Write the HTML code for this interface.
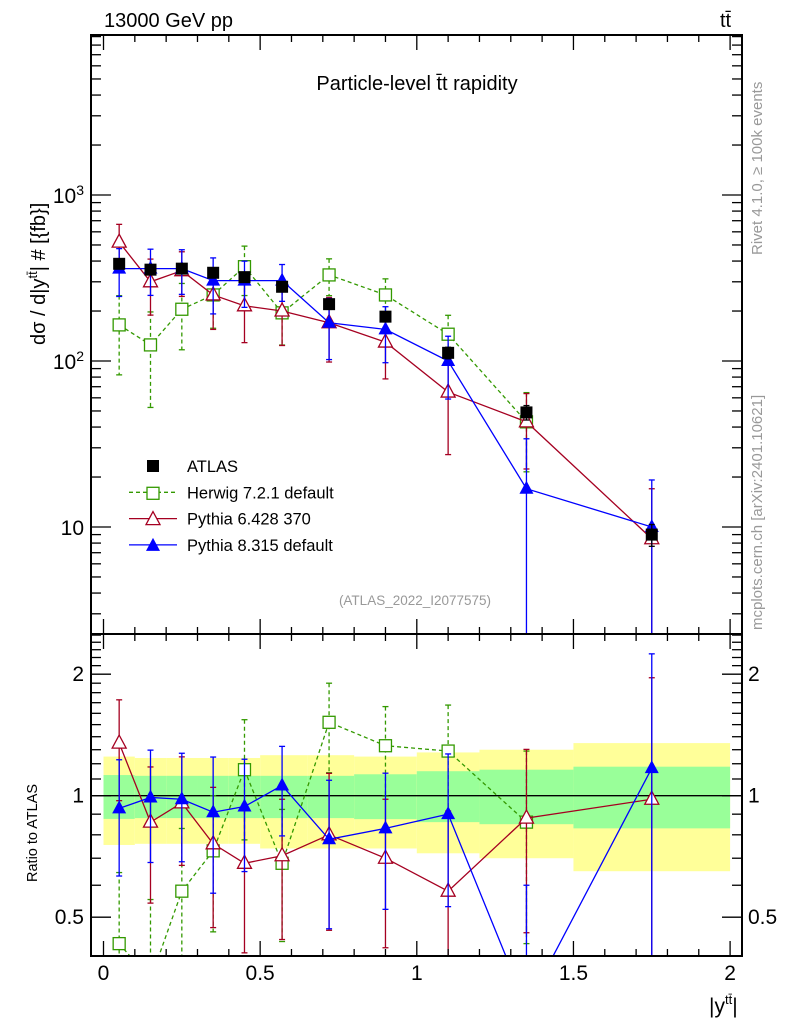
<!DOCTYPE html>
<html><head><meta charset="utf-8"><style>
body{margin:0;background:#fff;width:786px;height:1024px;overflow:hidden;position:relative}
svg{font-family:"Liberation Sans",sans-serif;position:absolute;left:0;top:0;display:block}
</style></head><body>
<svg id="c" width="786" height="1024" xmlns="http://www.w3.org/2000/svg"></svg>
<script>
const xs=[0.05,0.15,0.25,0.35,0.45,0.57,0.72,0.9,1.1,1.35,1.75];
const binEdges=[0,0.1,0.2,0.3,0.4,0.5,0.65,0.8,1.0,1.2,1.5,2.0];
const atlas=[385,355,360,340,320,280,220,185,112,49,9];
const atlasErr=[0.05,0.05,0.05,0.06,0.06,0.06,0.07,0.07,0.08,0.1,0.15];
const herwig=[165,125,205,250,370,195,330,250,145,43];
const herwigRatio=[0.43,0.35,0.58,0.73,1.16,0.68,1.52,1.33,1.29,0.86];
const herwigErr=[0.5,0.58,0.43,0.37,0.33,0.36,0.25,0.25,0.3,0.5];
const py6=[520,300,350,250,215,200,170,130,65,43,8.5];
const py6Ratio=[1.35,0.86,0.96,0.76,0.68,0.71,0.8,0.7,0.58,0.88,0.98];
const py6Err=[0.28,0.37,0.3,0.38,0.4,0.38,0.42,0.4,0.58,0.48,1.0];
const py8=[360,360,360,305,305,305,170,155,100,17,10];
const py8Ratio=[0.93,0.99,0.98,0.91,0.94,1.06,0.78,0.83,0.9,0.3,1.17];
const py8Err=[0.32,0.31,0.3,0.37,0.31,0.25,0.4,0.37,0.41,1.0,0.92];
const yellowUp=[1.25,1.24,1.24,1.24,1.24,1.26,1.26,1.25,1.28,1.3,1.35];
const yellowDn=[0.755,0.76,0.76,0.76,0.76,0.74,0.74,0.74,0.72,0.7,0.65];
const greenUp=[1.125,1.12,1.12,1.12,1.12,1.12,1.12,1.13,1.15,1.16,1.18];
const greenDn=[0.876,0.88,0.88,0.88,0.88,0.88,0.88,0.875,0.86,0.85,0.83];
const mainTicks=[10,100,1000];
const ratioTicks=[0.5,1,2];
const xTicks=[0,0.5,1,1.5,2];

const L=91,R=742,T=35,MB=634,RB=956;
const X=v=>103.5+v*313.3;
const YM=v=>195-(Math.log10(v)-3)*166;
const YR=v=>795.7-Math.log10(v)*403.6;
const S=document.getElementById('c');const NS='http://www.w3.org/2000/svg';
function el(t,a,p){const e=document.createElementNS(NS,t);for(const k in a)e.setAttribute(k,a[k]);(p||S).appendChild(e);return e;}
function txt(s,a,p){const e=el('text',a,p);e.textContent=s;return e;}

for(let i=0;i<binEdges.length-1;i++){
 const x1=X(binEdges[i]),x2=X(binEdges[i+1]);
 const y=el('rect',{x:x1,y:YR(yellowUp[i]),width:x2-x1,height:YR(yellowDn[i])-YR(yellowUp[i]),fill:'#ffff99'});
 
 
 const g=el('rect',{x:x1,y:YR(greenUp[i]),width:x2-x1,height:YR(greenDn[i])-YR(greenUp[i]),fill:'#99ff99'});
 
 
}
el('line',{x1:L,x2:R,y1:YR(1),y2:YR(1),stroke:'#000','stroke-width':1.3});

const defs=el('defs',{});
const c1=el('clipPath',{id:'cm'},defs);el('rect',{x:L,y:T,width:R-L,height:MB-T},c1);
const c2=el('clipPath',{id:'cr'},defs);el('rect',{x:L,y:MB,width:R-L,height:RB-MB},c2);
const gm=el('g',{'clip-path':'url(#cm)'});const gr=el('g',{'clip-path':'url(#cr)'});

function marker(g,type,x,y,col){
 if(type==='sq'){el('rect',{x:x-6,y:y-6,width:12,height:12,fill:'#fff',stroke:col,'stroke-width':1.3},g);}
 else if(type==='fsq'){el('rect',{x:x-6,y:y-6,width:12,height:12,fill:col},g);}
 else if(type==='tri'){el('polygon',{points:`${x},${y-8} ${x-7},${y+5} ${x+7},${y+5}`,fill:'#fff',stroke:col,'stroke-width':1.3},g);}
 else {el('polygon',{points:`${x},${y-8} ${x-7},${y+5} ${x+7},${y+5}`,fill:col},g);}
}
function series(g,vals,err,Y,col,type,dash,name){
 const gg=el('g',{},g);
 
 
 const pts=vals.map((v,i)=>X(xs[i])+','+Y(v)).join(' ');
 if(type!=='fsq')el('polyline',{points:pts,fill:'none',stroke:col,'stroke-width':1.3,'stroke-dasharray':dash||''},gg);
 vals.forEach((v,i)=>{
  const x=X(xs[i]),hi=v*(1+err[i]),lo=Math.max(v*(1-err[i]),1e-6);
  el('line',{x1:x,x2:x,y1:Y(hi),y2:Y(lo),stroke:col,'stroke-width':1.3,'stroke-dasharray':dash||''},gg);
  el('line',{x1:x-3,x2:x+3,y1:Y(hi),y2:Y(hi),stroke:col,'stroke-width':1.3},gg);
  el('line',{x1:x-3,x2:x+3,y1:Y(lo),y2:Y(lo),stroke:col,'stroke-width':1.3},gg);
  marker(gg,type,x,Y(v),col);
 });
}
series(gm,herwig,herwigErr,YM,'#339900','sq','4,3','herwig-series');
series(gm,py6,py6Err,YM,'#a50021','tri','','pythia6-series');
series(gm,py8,py8Err,YM,'#0000ff','ftri','','pythia8-series');
series(gm,atlas,atlasErr,YM,'#000','fsq','','atlas-series');
series(gr,herwigRatio,herwigErr,YR,'#339900','sq','4,3','herwig-ratio');
series(gr,py6Ratio,py6Err,YR,'#a50021','tri','','pythia6-ratio');
series(gr,py8Ratio,py8Err,YR,'#0000ff','ftri','','pythia8-ratio');

el('rect',{x:L,y:T,width:R-L,height:MB-T,fill:'none',stroke:'#000','stroke-width':2});
el('rect',{x:L,y:MB,width:R-L,height:RB-MB,fill:'none',stroke:'#000','stroke-width':2});

for(let k=0;k<=20;k++){const v=k/10,x=X(v),len=k%5===0?15:7;
 [[T,1],[MB,-1],[MB,1],[RB,-1]].forEach(([y,d])=>el('line',{x1:x,x2:x,y1:y,y2:y+d*len,stroke:'#000','stroke-width':1.3}));}
xTicks.forEach(v=>{const t=txt(String(v),{x:X(v),y:980,'font-size':21,'text-anchor':'middle'});
 
 });
for(let d=0;d<4;d++)for(let m=1;m<10;m++){const v=m*Math.pow(10,d);const y=YM(v);if(y<T||y>MB)continue;const len=m===1?20:10;
 el('line',{x1:L,x2:L+len,y1:y,y2:y,stroke:'#000','stroke-width':1.3});el('line',{x1:R,x2:R-len,y1:y,y2:y,stroke:'#000','stroke-width':1.3});}
mainTicks.forEach(v=>{const t=el('text',{x:84,y:YM(v)+8,'font-size':21,'text-anchor':'end'});
 if(v===10)t.textContent='10';else{t.textContent='10';const sp=el('tspan',{dy:-8,'font-size':14},t);sp.textContent=v===100?'2':'3';}
 
 });
for(let v=0.4;v<=2.55;v+=0.1){const y=YR(v);if(y<MB||y>RB)continue;const maj=[0.5,1,2].some(m=>Math.abs(m-v)<1e-6);const len=maj?20:10;
 el('line',{x1:L,x2:L+len,y1:y,y2:y,stroke:'#000','stroke-width':1.3});el('line',{x1:R,x2:R-len,y1:y,y2:y,stroke:'#000','stroke-width':1.3});}
ratioTicks.forEach(v=>{const t1=txt(String(v),{x:84,y:YR(v)+7,'font-size':21,'text-anchor':'end'});
 
 
 const t2=txt(String(v),{x:748,y:YR(v)+7,'font-size':21});
 
 });

const lg=el('g',{});


const leg=[['ATLAS','#000','fsq',''],['Herwig 7.2.1 default','#339900','sq','4,3'],['Pythia 6.428 370','#a50021','tri',''],['Pythia 8.315 default','#0000ff','ftri','']];
leg.forEach(([n,c,t,d],i)=>{const y=466+i*26.3;const e=el('g',{},lg);
 
 
 if(t!=='fsq')el('line',{x1:129,x2:177,y1:y,y2:y,stroke:c,'stroke-width':1.3,'stroke-dasharray':d},e);
 marker(e,t,153,y+(t==='fsq'?0:1),c);
 txt(n,{x:187,y:y+6,'font-size':16.5},e);});
</script>
<svg width="786" height="1024" xmlns="http://www.w3.org/2000/svg" font-family="Liberation Sans, sans-serif">
<text x="104" y="27" font-size="20">13000 GeV pp</text>
<text x="720" y="27" font-size="20">tt̄</text>
<text x="417" y="90" font-size="20" text-anchor="middle">Particle-level t̄t rapidity</text>
<text x="415" y="605" font-size="13.5" fill="#999" text-anchor="middle">(ATLAS_2022_I2077575)</text>
<text transform="translate(45,345) rotate(-90)" font-size="20">dσ / d|y<tspan dy="-8" font-size="13">tt̄</tspan><tspan dy="8">| # [{fb}]</tspan></text>
<text transform="translate(37,882) rotate(-90)" font-size="14.5">Ratio to ATLAS</text>
<text x="709" y="1013" font-size="21">|y<tspan dy="-9" font-size="13">tt̄</tspan><tspan dy="9">|</tspan></text>
<text transform="translate(762,255) rotate(-90)" font-size="15" fill="#999">Rivet 4.1.0, ≥ 100k events</text>
<text transform="translate(762,630) rotate(-90)" font-size="15" fill="#999">mcplots.cern.ch [arXiv:2401.10621]</text>
</svg>
</body></html>
